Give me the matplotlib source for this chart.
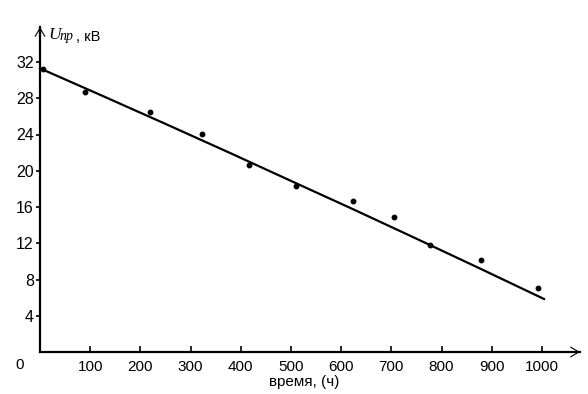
import numpy as np
import matplotlib
matplotlib.use("Agg")
import matplotlib.pyplot as plt

plt.rcParams['font.family'] = ['Liberation Sans', 'DejaVu Sans']

# measured points: time (h) vs breakdown voltage (kV)
t_pts = [5, 90, 219, 322, 416, 510, 623, 705, 777, 878, 992]
u_pts = [31.2, 28.7, 26.5, 24.05, 20.6, 18.35, 16.7, 14.9, 11.85, 10.15, 7.1]

# approximating curve
t_fit = [0, 125, 250, 375, 500, 625, 750, 875, 1004]
u_fit = [31.3, 28.25, 25.17, 22.05, 18.88, 15.72, 12.5, 9.25, 5.85]

xticks = [100, 200, 300, 400, 500, 600, 700, 800, 900, 1000]
yticks = [4, 8, 12, 16, 20, 24, 28, 32]

W, H = 588, 394
fig = plt.figure(figsize=(W / 100, H / 100), dpi=100)
x0, y0, x1, y1 = 40, 352, 580, 27
ax = fig.add_axes([x0 / W, 1 - y0 / H, (x1 - x0) / W, (y0 - y1) / H])
ax.set_xlim(0, (x1 - x0) / 0.502)
ax.set_ylim(0, (y0 - y1) / 9.0625)

ax.plot(t_fit, u_fit, color='black', lw=1.6, clip_on=False)
ax.plot(t_pts, u_pts, 'o', color='black', ms=3.2, clip_on=False)

for s in ['top', 'right']:
    ax.spines[s].set_visible(False)
for s in ['left', 'bottom']:
    ax.spines[s].set_linewidth(1.6)

ax.annotate('', xy=(1, 0), xytext=(0.97, 0), xycoords='axes fraction',
            arrowprops=dict(arrowstyle='->,head_length=0.6,head_width=0.35', lw=0.8,
                            shrinkA=0, shrinkB=0))
ax.annotate('', xy=(0, 1), xytext=(0, 0.95), xycoords='axes fraction',
            arrowprops=dict(arrowstyle='->,head_length=0.6,head_width=0.35', lw=0.8,
                            shrinkA=0, shrinkB=0))

ax.set_xticks(xticks)
ax.set_xticklabels([str(v) for v in xticks])
ax.set_yticks(yticks)
ax.set_yticklabels([str(v) for v in yticks])
ax.tick_params(axis='x', direction='in', length=4, width=1.2, pad=6, labelsize=11)
ax.tick_params(axis='y', direction='out', length=3, width=1.2, pad=1.5, labelsize=11.5)

ax.text(-40, -1.4, '0', fontsize=11, ha='center', va='center', clip_on=False)

fig.text(304 / W, 1 - 382 / H, 'время, (ч)', fontsize=11, ha='center', va='center')

fig.text(48 / W, 1 - 39 / H, 'U', fontsize=12.5, family='Liberation Serif',
         style='italic', va='baseline')
fig.text(60 / W, 1 - 40 / H, 'пр', fontsize=10, family='Liberation Serif',
         style='italic', va='baseline')
fig.text(76 / W, 1 - 41 / H, ', кВ', fontsize=10.5, va='baseline')

fig.savefig('out.png', dpi=100)
